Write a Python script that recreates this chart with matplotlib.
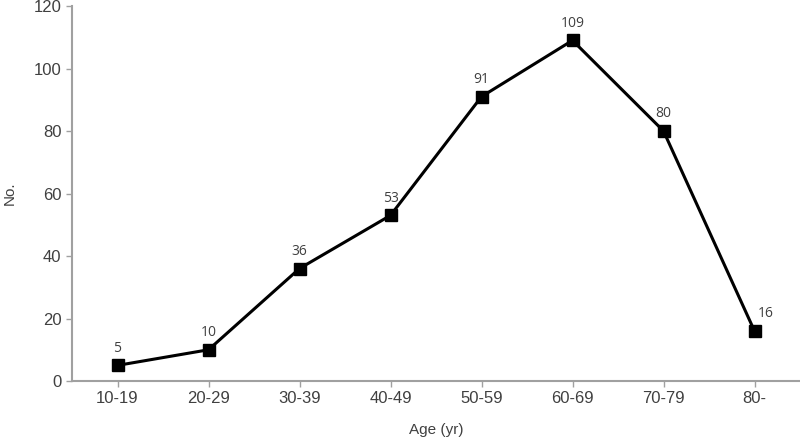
import matplotlib.pyplot as plt

ages = ['10-19', '20-29', '30-39', '40-49', '50-59', '60-69', '70-79', '80-']
counts = [5, 10, 36, 53, 91, 109, 80, 16]

fig = plt.figure(figsize=(8, 4.46), dpi=100)
ax = fig.add_axes([0.09, 0.1457, 0.91, 0.8408])
x = range(len(ages))
ax.plot(x, counts, color='black', lw=2.2, marker='s', ms=9, mfc='black')

for i, v in enumerate(counts):
    dx, dy = (8, 7) if i == len(counts) - 1 else (0, 7)
    ax.annotate(str(v), (i, v), xytext=(dx, dy), textcoords='offset points',
                ha='center', va='bottom', fontsize=10, color='#404040', family='Open Sans')

ax.set_xlim(-0.5, 7.5)
ax.set_ylim(0, 120)
ax.set_yticks(range(0, 121, 20))
ax.set_xticks(list(x))
ax.set_xticklabels(ages)
for s in ['top', 'right']:
    ax.spines[s].set_visible(False)
for s in ['left', 'bottom']:
    ax.spines[s].set_color('#a0a0a0')
    ax.spines[s].set_linewidth(1.5)
ax.tick_params(colors='#a0a0a0', labelcolor='#404040', labelsize=12, length=4, width=1)
for lbl in ax.get_xticklabels() + ax.get_yticklabels():
    lbl.set_family('Liberation Sans')
ax.set_xlabel('Age (yr)', fontsize=11, color='#404040', family='Liberation Sans', labelpad=12)
ax.set_ylabel('No.', fontsize=11, color='#404040', family='Liberation Sans', labelpad=12)

fig.savefig('out.png', dpi=100)
